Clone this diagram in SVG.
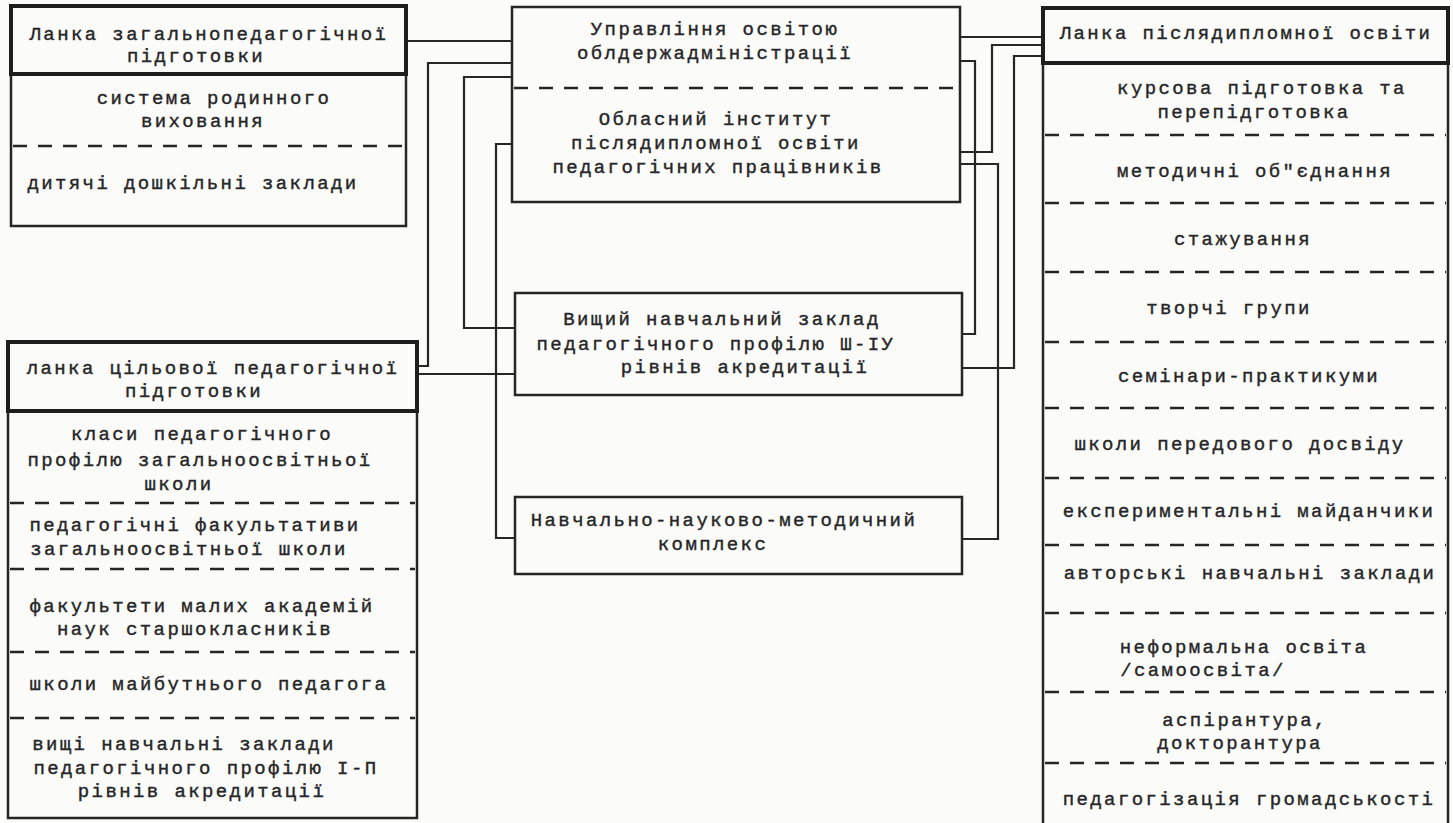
<svg xmlns="http://www.w3.org/2000/svg" width="1453" height="823" viewBox="0 0 1453 823">
<style>
.bg{fill:#fbfbfa}
.box{fill:none;stroke:#262626;stroke-width:2.5}
.hdr{fill:none;stroke:#1e1e1e;stroke-width:4}
.dash{fill:none;stroke:#262626;stroke-width:2.5;stroke-dasharray:14 11}
.conn{fill:none;stroke:#262626;stroke-width:2.2}
text{font-family:"Liberation Mono","DejaVu Sans Mono",monospace;font-size:19px;letter-spacing:2.4px;fill:#262626;stroke:#262626;stroke-width:0.4;text-anchor:middle}
</style>
<rect class="bg" x="0" y="0" width="1453" height="823"/>
<g id="connectors">
<path class="conn" d="M406 41 H512"/>
<path class="conn" d="M512 63 H428 V366 H417"/>
<path class="conn" d="M512 77 H464 V328 H515"/>
<path class="conn" d="M512 144 H496 V538 H515"/>
<path class="conn" d="M417 374 H515"/>
<path class="conn" d="M960 37 H1043"/>
<path class="conn" d="M1043 45 H992 V152 H960"/>
<path class="conn" d="M1043 56 H1014 V368 H962"/>
<path class="conn" d="M960 61 H975 V334 H962"/>
<path class="conn" d="M960 164 H998 V539 H962"/>
</g>
<g id="node-general">
<rect class="box" x="11" y="74" width="395" height="152"/>
<rect class="hdr" x="11" y="6" width="395" height="68"/>
<text x="209" y="40">Ланка загальнопедагогічної</text>
<text x="196" y="62">підготовки</text>
<text x="214" y="104">система родинного</text>
<text x="203" y="127">виховання</text>
<line class="dash" x1="13" y1="146" x2="404" y2="146"/>
<text x="193" y="189">дитячі дошкільні заклади</text>
</g>
<g id="node-target">
<rect class="box" x="8" y="411" width="409" height="407"/>
<rect class="hdr" x="8" y="342" width="409" height="69"/>
<text x="213" y="374">ланка цільової педагогічної</text>
<text x="194" y="397">підготовки</text>
<text x="202" y="440">класи педагогічного</text>
<text x="200" y="466">профілю загальноосвітньої</text>
<text x="179" y="490">школи</text>
<line class="dash" x1="10" y1="503" x2="415" y2="503"/>
<text x="195" y="531">педагогічні факультативи</text>
<text x="189" y="555">загальноосвітньої школи</text>
<line class="dash" x1="10" y1="569" x2="415" y2="569"/>
<text x="202" y="612">факультети малих академій</text>
<text x="195" y="635">наук старшокласників</text>
<line class="dash" x1="10" y1="652" x2="415" y2="652"/>
<text x="209" y="690">школи майбутнього педагога</text>
<line class="dash" x1="10" y1="718" x2="415" y2="718"/>
<text x="184" y="750">вищі навчальні заклади</text>
<text x="206" y="774">педагогічного профілю І-П</text>
<text x="202" y="797">рівнів акредитації</text>
</g>
<g id="node-admin">
<rect class="box" x="512" y="7" width="448" height="195"/>
<text x="715" y="35">Управління освітою</text>
<text x="715" y="59">облдержадміністрації</text>
<line class="dash" x1="514" y1="88" x2="958" y2="88"/>
<text x="716" y="125">Обласний інститут</text>
<text x="716" y="149">післядипломної освіти</text>
<text x="718" y="173">педагогічних працівників</text>
</g>
<g id="node-university">
<rect class="box" x="515" y="293" width="447" height="102"/>
<text x="722" y="325">Вищий навчальний заклад</text>
<text x="716" y="350">педагогічного профілю Ш-ІУ</text>
<text x="745" y="373">рівнів акредитації</text>
</g>
<g id="node-complex">
<rect class="box" x="515" y="497" width="447" height="77"/>
<text x="724" y="526">Навчально-науково-методичний</text>
<text x="713" y="550">комплекс</text>
</g>
<g id="node-postgrad">
<rect class="box" x="1043" y="63" width="405" height="770"/>
<rect class="hdr" x="1043" y="8" width="405" height="55"/>
<text x="1246" y="39">Ланка післядипломної освіти</text>
<text x="1262" y="94">курсова підготовка та</text>
<text x="1254" y="118">перепідготовка</text>
<line class="dash" x1="1045" y1="135" x2="1446" y2="135"/>
<text x="1255" y="177">методичні об"єднання</text>
<line class="dash" x1="1045" y1="203" x2="1446" y2="203"/>
<text x="1243" y="245">стажування</text>
<line class="dash" x1="1045" y1="272" x2="1446" y2="272"/>
<text x="1229" y="314">творчі групи</text>
<line class="dash" x1="1045" y1="342" x2="1446" y2="342"/>
<text x="1249" y="382">семінари-практикуми</text>
<line class="dash" x1="1045" y1="408" x2="1446" y2="408"/>
<text x="1240" y="450">школи передового досвіду</text>
<line class="dash" x1="1045" y1="478" x2="1446" y2="478"/>
<text x="1249" y="517">експериментальні майданчики</text>
<line class="dash" x1="1045" y1="545" x2="1446" y2="545"/>
<text x="1250" y="579">авторські навчальні заклади</text>
<line class="dash" x1="1045" y1="613" x2="1446" y2="613"/>
<text x="1244" y="653">неформальна освіта</text>
<text x="1203" y="676">/самоосвіта/</text>
<line class="dash" x1="1045" y1="692" x2="1446" y2="692"/>
<text x="1245" y="726">аспірантура,</text>
<text x="1240" y="749">докторантура</text>
<line class="dash" x1="1045" y1="763" x2="1446" y2="763"/>
<text x="1249" y="805">педагогізація громадськості</text>
</g>
</svg>
